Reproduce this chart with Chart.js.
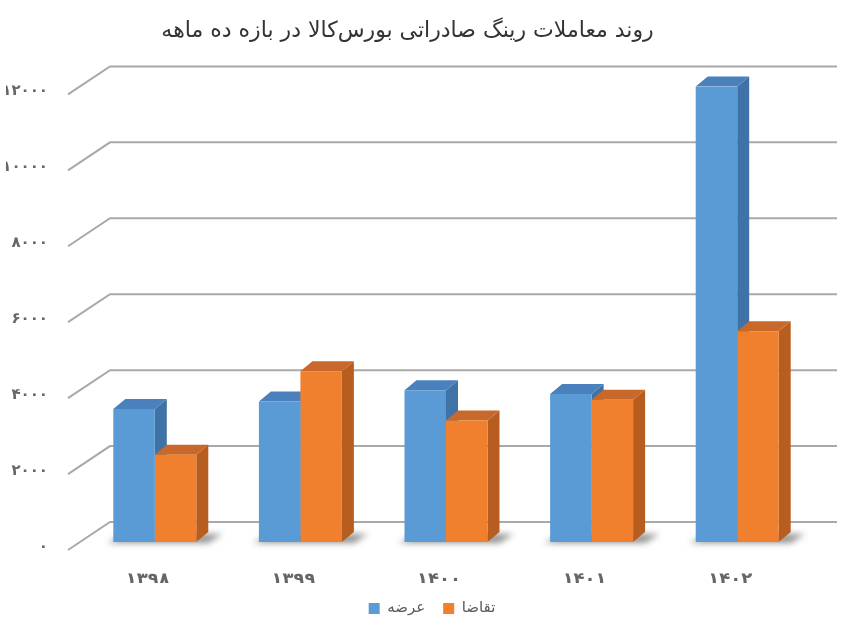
<!DOCTYPE html>
<html>
<head>
<meta charset="utf-8">
<script src="https://cdn.jsdelivr.net/npm/chart.js@4/dist/chart.umd.min.js"></script>
<style>
  body { margin: 0; background: #fff; }
  #wrap { width: 858px; height: 632px; }
</style>
</head>
<body>
<div id="wrap"><canvas id="barChart" width="858" height="632"></canvas></div>
<script>
const titleText = "روند معاملات رینگ صادراتی بورس‌کالا در بازه ده ماهه";
const years = ["۱۳۹۸", "۱۳۹۹", "۱۴۰۰", "۱۴۰۱", "۱۴۰۲"];
const supplyLabel = "عرضه";
const demandLabel = "تقاضا";
const supply = [3500, 3700, 4000, 3900, 12000];
const demand = [2300, 4500, 3200, 3750, 5550];

const faDigits = "۰۱۲۳۴۵۶۷۸۹";
function toFa(n) {
  return String(n).replace(/\d/g, d => faDigits[d]);
}

// fake 3D: back wall grid + bar sides/tops
const depth = { dx: 12, dy: 10 };
const sideColors = ["#3f73a8", "#b85d20"];
const topColors = ["#4a80bb", "#c8682a"];

const wall3d = {
  id: "wall3d",
  beforeDatasetsDraw(chart) {
    const { ctx, chartArea, scales } = chart;
    const y = scales.y;
    ctx.save();
    ctx.lineWidth = 2;
    ctx.strokeStyle = "#a9a9a9";
    y.ticks.forEach(t => {
      const py = y.getPixelForValue(t.value);
      const fx = chartArea.left - 14, fy = py + 8;
      const bx = chartArea.left + 28, by = py - 20;
      ctx.beginPath();
      ctx.moveTo(fx, fy);
      ctx.lineTo(bx, by);
      ctx.lineTo(837, by);
      ctx.stroke();
    });

    // soft shadow at the foot of each group
    const last = chart.getDatasetMeta(chart.data.datasets.length - 1);
    const first = chart.getDatasetMeta(0);
    ctx.filter = "blur(3px)";
    ctx.fillStyle = "rgba(40,40,40,0.5)";
    first.data.forEach((bar, j) => {
      const l = bar.x - bar.width / 2;
      const r = last.data[j].x + last.data[j].width / 2;
      const base = bar.base;
      ctx.beginPath();
      ctx.moveTo(l - 6, base + 1);
      ctx.lineTo(r + 12, base + 1);
      ctx.lineTo(r + depth.dx + 14, base - depth.dy + 2);
      ctx.lineTo(l + depth.dx, base - depth.dy + 2);
      ctx.closePath();
      ctx.fill();
    });
    ctx.filter = "none";

    chart.data.datasets.forEach((ds, i) => {
      const meta = chart.getDatasetMeta(i);
      meta.data.forEach(bar => {
        const l = bar.x - bar.width / 2, r = bar.x + bar.width / 2;
        const top = bar.y, base = bar.base;
        ctx.fillStyle = sideColors[i];
        ctx.beginPath();
        ctx.moveTo(r, top);
        ctx.lineTo(r + depth.dx, top - depth.dy);
        ctx.lineTo(r + depth.dx, base - depth.dy);
        ctx.lineTo(r, base);
        ctx.closePath();
        ctx.fill();
        ctx.fillStyle = topColors[i];
        ctx.beginPath();
        ctx.moveTo(l, top);
        ctx.lineTo(l + depth.dx, top - depth.dy);
        ctx.lineTo(r + depth.dx, top - depth.dy);
        ctx.lineTo(r, top);
        ctx.closePath();
        ctx.fill();
      });
    });
    ctx.restore();
  }
};

new Chart(document.getElementById("barChart"), {
  type: "bar",
  data: {
    labels: years,
    datasets: [
      { label: supplyLabel, data: supply, backgroundColor: "#5b9bd5", borderWidth: 0 },
      { label: demandLabel, data: demand, backgroundColor: "#f07f2e", borderWidth: 0 }
    ]
  },
  options: {
    responsive: false,
    animation: false,
    devicePixelRatio: 1,
    layout: { padding: { left: 6, right: 0, top: 0, bottom: 6 } },
    datasets: { bar: { barPercentage: 1, categoryPercentage: 0.57 } },
    scales: {
      x: {
        afterFit: s => { s.height = 41; },
        grid: { display: false, drawTicks: false },
        border: { display: false },
        ticks: {
          padding: 28,
          labelOffset: -7,
          color: "#666",
          font: { family: "DejaVu Sans", size: 18, weight: "bold" }
        }
      },
      y: {
        min: 0,
        max: 12000,
        afterFit: s => { s.width = 76; },
        grid: { display: false, drawTicks: false },
        border: { display: false },
        ticks: {
          stepSize: 2000,
          padding: 34,
          labelOffset: 5,
          color: "#666",
          font: { family: "DejaVu Sans", size: 15, weight: "bold" },
          callback: v => toFa(v)
        }
      },
      // empty right axis keeps room for the back wall
      yRight: {
        position: "right",
        afterFit: s => { s.width = 48; },
        grid: { display: false, drawTicks: false },
        border: { display: false },
        ticks: { display: false }
      }
    },
    plugins: {
      title: {
        display: true,
        // trailing no-break spaces nudge the centred title a bit to the left
        text: titleText + "\u00A0".repeat(7),
        color: "#333",
        padding: { top: 18, bottom: 42 },
        font: { family: "DejaVu Sans", size: 22, weight: "normal" }
      },
      legend: {
        position: "bottom",
        labels: {
          boxWidth: 11,
          boxHeight: 11,
          color: "#595959",
          padding: 18,
          font: { family: "DejaVu Sans", size: 15 }
        }
      },
      tooltip: { enabled: false }
    }
  },
  plugins: [wall3d]
});
</script>
</body>
</html>
